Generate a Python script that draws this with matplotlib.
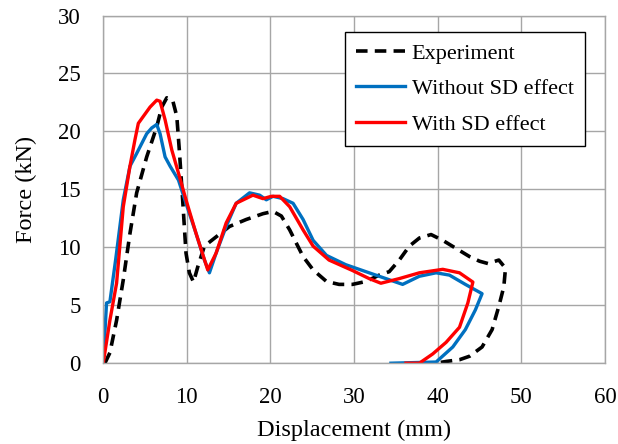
import matplotlib
matplotlib.use("Agg")
import matplotlib.pyplot as plt

# Experiment (dashed black)
exp_x = [0.2, 0.8, 1.6, 2.4, 3.2, 4.0, 5.2, 6.4, 7.0, 7.6, 8.3, 8.8, 9.1, 9.5, 9.9, 10.3, 10.8,
         11.3, 12.1, 13.5, 15.1, 17.1, 19.1, 20.3, 21.3, 22.3, 23.2, 23.9, 25.1, 26.7, 28.2, 29.8,
         31.4, 33.0, 34.2, 35.4, 36.6, 37.8, 39.2, 40.6, 42.2, 43.8, 45.0, 46.0, 47.3, 48.1, 47.9,
         47.3, 46.5, 45.3, 43.8, 42.6, 41.0, 39.8]
exp_y = [0, 0.9, 3.7, 7.2, 11.2, 14.7, 17.8, 20.4, 22.1, 22.9, 22.7, 21.3, 18.4, 14.1, 9.5, 7.8, 7.0,
         8.3, 10.1, 10.9, 11.8, 12.4, 12.9, 13.1, 12.7, 11.5, 10.2, 9.2, 8.05, 7.05, 6.8, 6.8,
         7.05, 7.6, 7.9, 8.9, 10.1, 10.8, 11.1, 10.6, 9.9, 9.2, 8.8, 8.6, 8.9, 8.2, 6.6,
         4.9, 2.9, 1.4, 0.6, 0.3, 0.15, 0]

# Without SD effect (blue)
nosd_x = [0, 0.4, 0.8, 1.5, 2.4, 3.2, 4.0, 5.2, 5.8, 6.4, 6.8, 7.4, 8.0, 9.0, 9.9, 11.1, 12.1, 12.7,
          13.5, 14.7, 15.9, 17.5, 18.7, 19.5, 20.3, 21.5, 22.7, 23.9, 25.1, 26.7, 29.0, 31.4, 33.8,
          35.8, 37.8, 39.8, 41.4, 43.3, 45.3, 44.5, 43.3, 41.8, 39.8, 34.4]
nosd_y = [0, 5.2, 5.3, 9.0, 14.1, 17.0, 18.1, 19.8, 20.3, 20.6, 19.8, 17.8, 17.0, 15.8, 13.8, 11.2, 8.9, 7.8,
          9.5, 11.8, 13.8, 14.7, 14.5, 14.1, 14.4, 14.2, 13.8, 12.4, 10.6, 9.3, 8.5, 7.9, 7.3,
          6.8, 7.5, 7.8, 7.6, 6.8, 6.0, 4.6, 2.9, 1.4, 0.1, 0]

# With SD effect (red)
sd_x = [0, 0.8, 1.6, 2.4, 3.2, 3.8, 4.2, 4.8, 5.6, 6.4, 6.8, 7.4, 8.2, 9.0, 9.9, 11.1, 12.5, 13.5,
        14.7, 15.9, 17.9, 19.1, 20.1, 21.1, 22.3, 23.9, 25.1, 27.0, 29.8, 31.8, 33.2, 35.4, 37.8,
        40.6, 42.6, 44.2, 43.6, 42.6, 41.0, 39.4, 37.8, 36.2]
sd_y = [0, 3.7, 6.9, 13.5, 17.0, 19.3, 20.7, 21.3, 22.1, 22.7, 22.6, 21.0, 18.4, 16.4, 14.1, 11.2, 8.05, 9.5,
        12.1, 13.8, 14.5, 14.2, 14.4, 14.4, 13.5, 11.5, 10.1, 8.9, 8.0, 7.3, 6.9, 7.3, 7.8,
        8.1, 7.8, 7.0, 5.2, 3.1, 1.8, 0.8, 0, 0]

plt.rcParams['font.family'] = ['Liberation Serif', 'DejaVu Serif']

fig = plt.figure(figsize=(6.18, 4.44), dpi=100)
ax = fig.add_axes([0.167, 0.182, 0.812, 0.783])

ax.plot(exp_x, exp_y, color='black', lw=2.6, dashes=(3.2, 2.0), label='Experiment')
ax.plot(nosd_x, nosd_y, color='#0070C0', lw=2.4, label='Without SD effect')
ax.plot(sd_x, sd_y, color='#FF0000', lw=2.4, label='With SD effect')

ax.set_xlim(0, 60)
ax.set_ylim(0, 30)
ax.set_xticks(range(0, 61, 10))
ax.set_yticks(range(0, 31, 5))
ax.grid(True, color='#A6A6A6', lw=1.0)
ax.set_axisbelow(True)
for s in ax.spines.values():
    s.set_color('#A6A6A6')
    s.set_linewidth(1.0)
ax.tick_params(length=0, labelsize=16.5)
ax.tick_params(axis='x', pad=17)
ax.tick_params(axis='y', pad=16)

ax.set_xlabel('Displacement (mm)', fontsize=17.5, labelpad=9)
ax.set_ylabel('Force (kN)', fontsize=17.5, labelpad=15)

leg = ax.legend(loc='upper left', bbox_to_anchor=(0.482, 0.953), fontsize=16,
                frameon=True, fancybox=False, framealpha=1, edgecolor='black',
                handlelength=2.2, handletextpad=0.3, labelspacing=0.68, borderpad=0.5,
                borderaxespad=0)
leg.get_frame().set_linewidth(1.0)

fig.savefig('out.png', dpi=100)
